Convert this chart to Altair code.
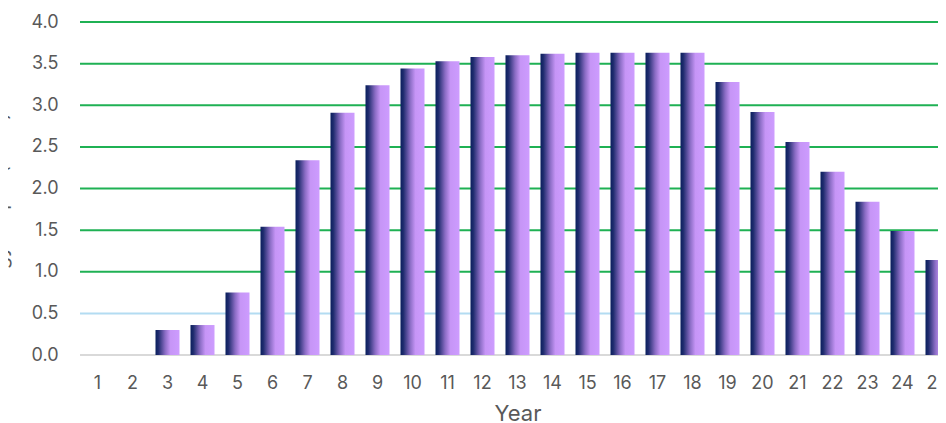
import altair as alt
import pandas as pd

years = list(range(1, 26))
values = [0.0, 0.0, 0.30, 0.36, 0.75, 1.54, 2.34, 2.91, 3.24, 3.44, 3.53, 3.58, 3.60,
          3.62, 3.63, 3.63, 3.63, 3.63, 3.28, 2.92, 2.56, 2.20, 1.84, 1.49, 1.14]

grid_vals = [0.5, 1.0, 1.5, 2.0, 2.5, 3.0, 3.5, 4.0]
grid_colors = ["#b3dcf2", "#1fb154", "#1fb154", "#1fb154", "#1fb154", "#1fb154", "#1fb154", "#1fb154"]
tick_vals = [0.0, 0.5, 1.0, 1.5, 2.0, 2.5, 3.0, 3.5, 4.0]

bars_df = pd.DataFrame({"Year": years, "Value": values})
grid_df = pd.DataFrame({"y": grid_vals, "c": grid_colors})
base_df = pd.DataFrame({"y": [0.0]})

FONT = "Inter"
LABEL = "#595959"

yscale = alt.Scale(domain=[0, 4], nice=False)

grid = alt.Chart(grid_df).mark_rule(strokeWidth=2).encode(
    y=alt.Y("y:Q", scale=yscale,
            axis=alt.Axis(values=tick_vals, format=".1f", domain=False, ticks=False, grid=False,
                          labelFont=FONT, labelFontSize=18, labelColor=LABEL, labelPadding=22,
                          title="Annual energy output (GWh)", titleFont=FONT, titleFontSize=20,
                          titleColor=LABEL, titleFontWeight="normal", titleAngle=-90,
                          titleX=-74, titleY=225, titleAlign="center",
                          titleBaseline="alphabetic")),
    color=alt.Color("c:N", scale=None),
)

baseline = alt.Chart(base_df).mark_rule(strokeWidth=2, color="#d9d9d9").encode(
    y=alt.Y("y:Q", scale=yscale)
)

gradient = alt.Gradient(
    gradient="linear",
    stops=[
        alt.GradientStop(color="#0a1f5e", offset=0),
        alt.GradientStop(color="#1f2c6e", offset=0.12),
        alt.GradientStop(color="#8a6cc4", offset=0.4),
        alt.GradientStop(color="#c695f6", offset=0.62),
        alt.GradientStop(color="#cd9cff", offset=1),
    ],
    x1=0, x2=1, y1=0, y2=0,
)

bars = alt.Chart(bars_df).mark_bar(color=gradient).encode(
    x=alt.X("Year:O",
            scale=alt.Scale(paddingInner=0.314, paddingOuter=0.157),
            axis=alt.Axis(labelAngle=0, domain=False, ticks=False, labelFont=FONT,
                          labelFontSize=18, labelColor=LABEL, labelPadding=19,
                          title="Year", titleFont=FONT, titleFontSize=22, titleColor=LABEL,
                          titleFontWeight="normal", titlePadding=11)),
    y=alt.Y("Value:Q", scale=yscale),
)

chart = alt.layer(grid, baseline, bars).properties(
    width=875, height=333,
    autosize=alt.AutoSizeParams(type="none"),
    padding={"left": 72, "top": 14, "right": -17, "bottom": 70},
).configure_view(stroke=None)

chart.save("out.html", embed_options={"renderer": "svg", "actions": False})
